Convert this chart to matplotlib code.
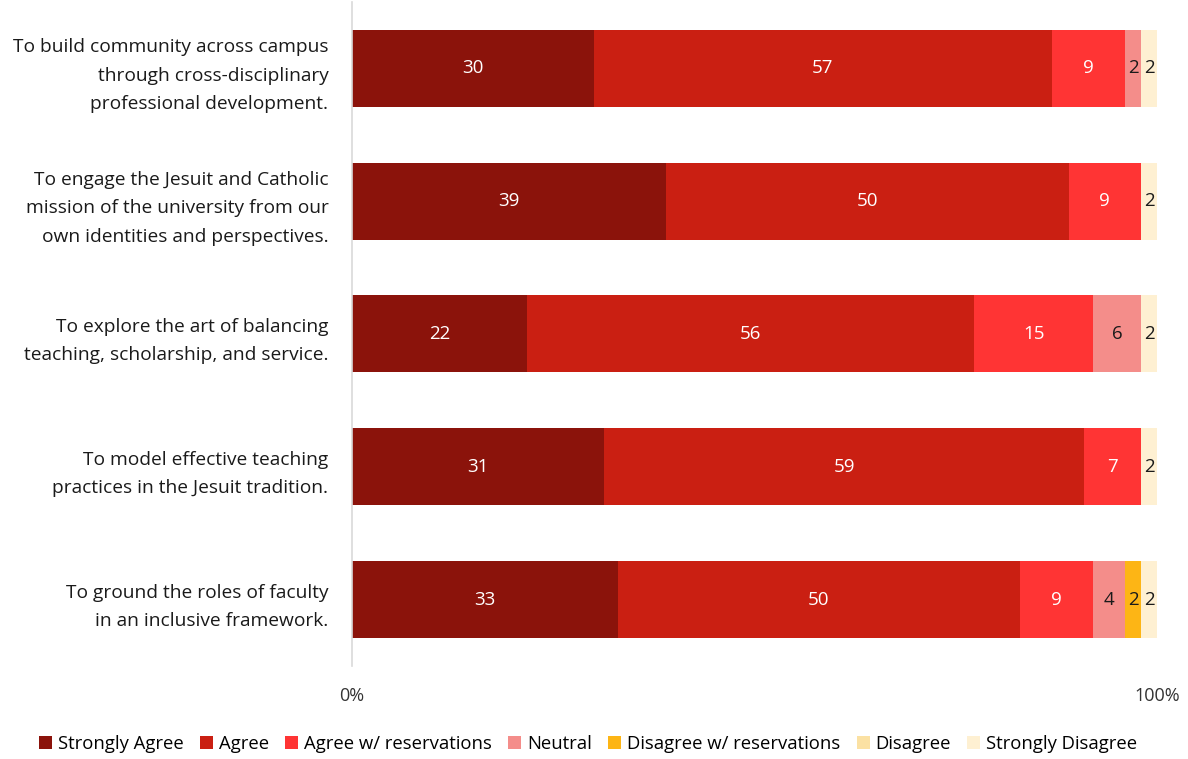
import matplotlib
matplotlib.use("Agg")
import matplotlib.pyplot as plt
import numpy as np

plt.rcParams["font.family"] = ["Open Sans", "DejaVu Sans"]

# Goals of the program, top to bottom
goals = [
    "To build community across campus\nthrough cross-disciplinary\nprofessional development.",
    "To engage the Jesuit and Catholic\nmission of the university from our\nown identities and perspectives.",
    "To explore the art of balancing\nteaching, scholarship, and service.",
    "To model effective teaching\npractices in the Jesuit tradition.",
    "To ground the roles of faculty\nin an inclusive framework.",
]

responses = ["Strongly Agree", "Agree", "Agree w/ reservations", "Neutral",
             "Disagree w/ reservations", "Disagree", "Strongly Disagree"]

# percent per response, one list per response level (same order as goals)
strongly_agree = [30, 39, 22, 31, 33]
agree = [57, 50, 56, 59, 50]
agree_res = [9, 9, 15, 7, 9]
neutral = [2, 0, 6, 0, 4]
disagree_res = [0, 0, 0, 0, 2]
disagree = [0, 0, 0, 0, 0]
strongly_disagree = [2, 2, 2, 2, 2]

colors = ["#8B130B", "#CA1F12", "#FF3434", "#F48D8A", "#FDB515", "#FBE1A3", "#FEF0D2"]
text_colors = ["white", "white", "white", "#1a1a1a", "#1a1a1a", "#1a1a1a", "#1a1a1a"]

series = np.array([strongly_agree, agree, agree_res, neutral,
                   disagree_res, disagree, strongly_disagree], dtype=float)
totals = series.sum(axis=0)
shares = series / totals * 100  # 100% stacked

fig = plt.figure(figsize=(11.88, 7.59), dpi=100)
ax = fig.add_axes([0.2963, 0.1225, 0.6777, 0.875])

y = np.arange(len(goals))
left = np.zeros(len(goals))
for i, name in enumerate(responses):
    ax.barh(y, shares[i], left=left, height=0.58, color=colors[i],
            label=name, edgecolor="none")
    for j, v in enumerate(series[i]):
        if v > 0:
            ax.text(left[j] + shares[i][j] / 2, y[j], f"{int(v)}",
                    ha="center", va="center", fontsize=13.5, color=text_colors[i])
    left += shares[i]

ax.set_ylim(4.5, -0.5)
ax.set_xlim(0, 100)
ax.set_yticks(y)
ax.set_yticklabels(goals, fontsize=13.8, linespacing=1.75, ha="right", color="#1a1a1a")
ax.tick_params(axis="y", length=0, pad=17)
ax.set_xticks([0, 100])
ax.set_xticklabels(["0%", "100%"], fontsize=13, color="#333333")
ax.tick_params(axis="x", length=0, pad=15)

for s in ["top", "right", "bottom"]:
    ax.spines[s].set_visible(False)
ax.spines["left"].set_color("#D9D9D9")
ax.spines["left"].set_linewidth(1.2)

handles, labels = ax.get_legend_handles_labels()
fig.legend(handles, labels, loc="center", bbox_to_anchor=(0.495, 0.02), ncol=7,
           frameon=False, fontsize=13.3, handlelength=0.7, handleheight=0.7,
           handletextpad=0.3, columnspacing=0.9)

fig.savefig("out.png", dpi=100, facecolor="white")
